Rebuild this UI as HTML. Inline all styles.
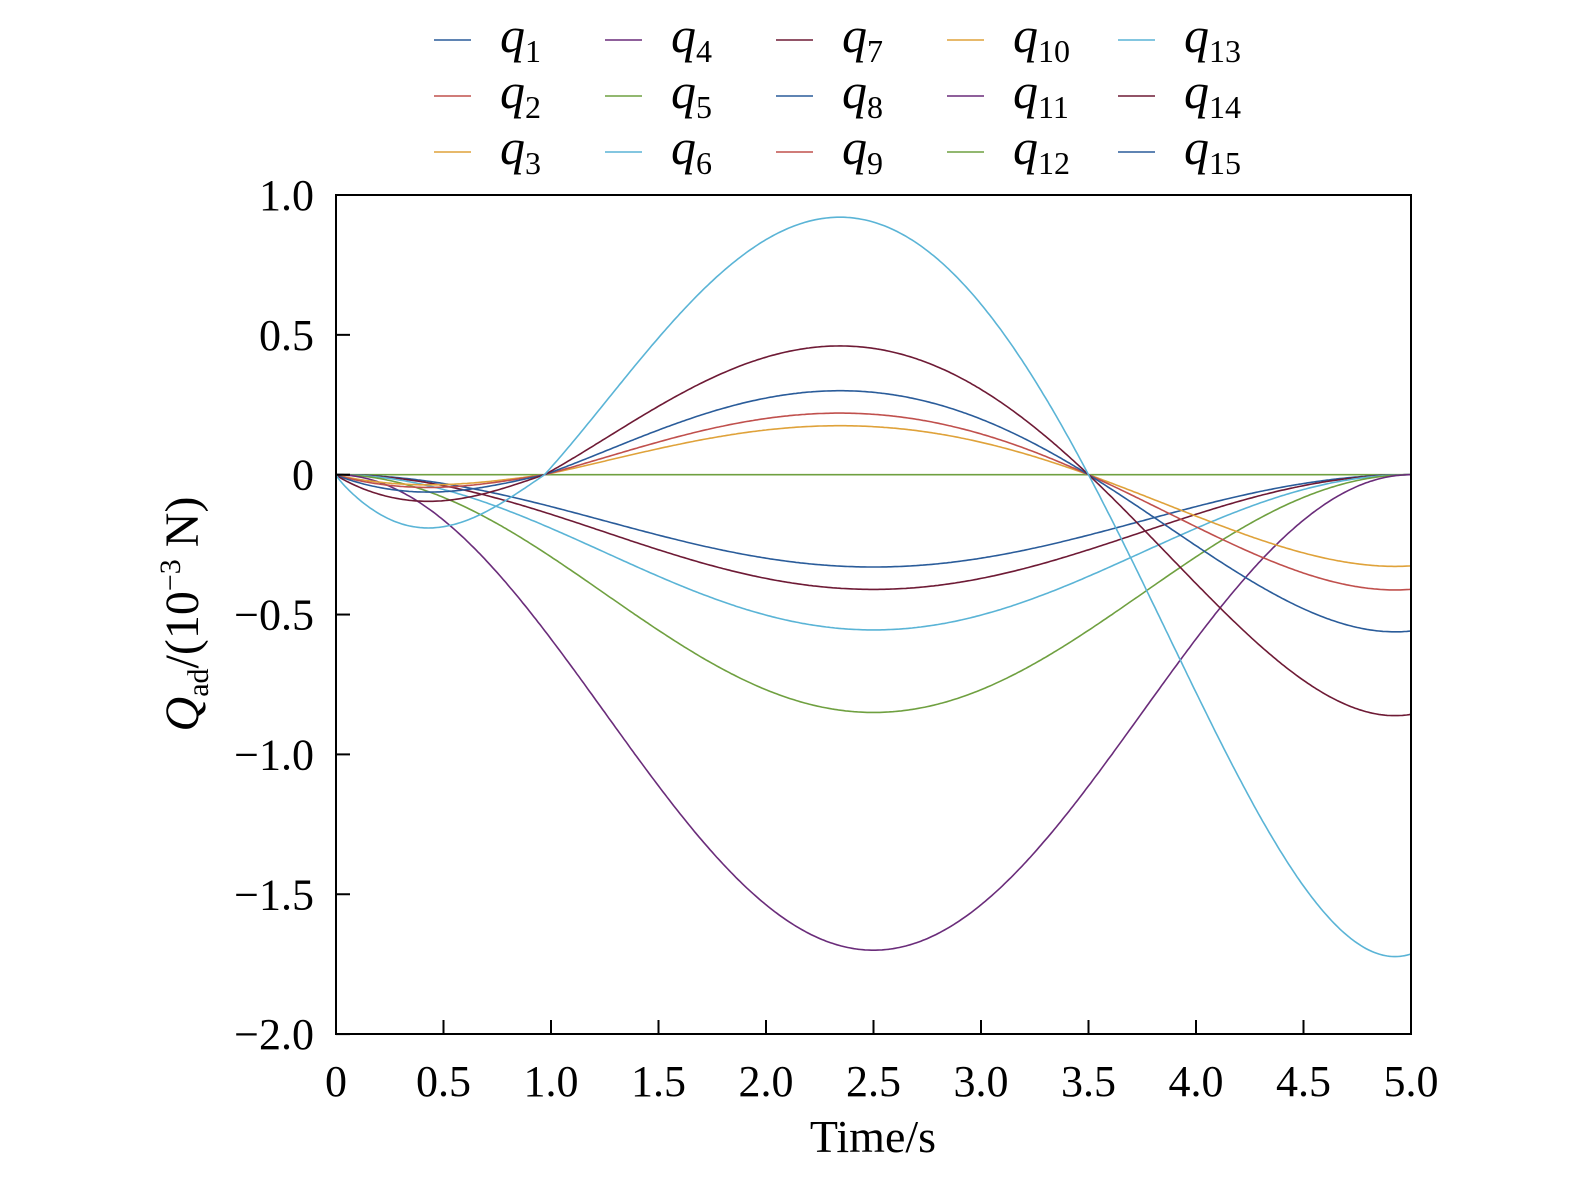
<!DOCTYPE html>
<html><head><meta charset="utf-8"><style>
html,body{margin:0;padding:0;background:#fff;}
</style></head><body>
<svg id="s" width="1575" height="1175" xmlns="http://www.w3.org/2000/svg" font-family="Liberation Serif, serif">
<rect width="1575" height="1175" fill="#fff"/>
<g id="curves" fill="none" stroke-width="1.6"></g>
<rect x="336" y="195" width="1075" height="839" fill="none" stroke="#000" stroke-width="2"/>
<g id="ticks" stroke="#000" stroke-width="2"></g>
<g id="labels" font-size="44" fill="#000"></g>
<text x="873" y="1152" font-size="46" text-anchor="middle">Time/s</text>
<g transform="translate(198,614) rotate(-90)"><text x="0" y="0" font-size="48" text-anchor="middle"><tspan font-style="italic">Q</tspan><tspan font-size="30" dy="10">ad</tspan><tspan dy="-10">/(10</tspan><tspan font-size="30" dy="-18">−3</tspan><tspan dy="18"> N)</tspan></text></g>
<g id="legend"></g>
</svg>
<script>
var ns="http://www.w3.org/2000/svg",s=document.getElementById('s');
function X(t){return 336+t*215;}
function Y(v){return 474.7-v*279.7;}
function el(p,tag,a,txt){var e=document.createElementNS(ns,tag);for(var k in a)e.setAttribute(k,a[k]);if(txt!=null)e.textContent=txt;p.appendChild(e);return e;}
var C={b:'#2a5c9a',r:'#c0504d',o:'#dfa23a',p:'#6a2c7a',g:'#6fa040',c:'#5ab4d6',d:'#6e1a35'};
function g(t){if(t<0.97){var u=t/0.97;return -0.207*Math.sin(Math.PI*Math.pow(u,0.85));}return 0.078*t*(t-0.97)*(t-3.5)*(t-5.79);}
function h(t){return -(1-Math.cos(2*Math.PI*t/5))/2;}
var cg=document.getElementById('curves');
function path(f,col){var d='';for(var i=0;i<=500;i++){var t=i/100;d+=(i?'L':'M')+X(t).toFixed(1)+' '+Y(f(t)).toFixed(1);}el(cg,'path',{d:d,stroke:col});}
path(function(){return 0},C.g);
[[0.33,C.b],[0.41,C.d],[0.555,C.c],[0.85,C.g],[1.7,C.p]].forEach(function(a){path(function(t){return a[0]*h(t)},a[1]);});
[[0.175,C.o],[0.22,C.r],[0.3,C.b],[0.46,C.d],[0.92,C.c]].forEach(function(a){path(function(t){return a[0]*g(t)},a[1]);});
var tk=document.getElementById('ticks'),lb=document.getElementById('labels');
for(var i=0;i<=10;i++){var x=X(i*0.5);el(tk,'line',{x1:x,y1:1034,x2:x,y2:1020});
el(lb,'text',{x:x,y:1096,'text-anchor':'middle'},i==0?'0':(i*0.5).toFixed(1));}
for(var i=0;i<=6;i++){var v=1-i*0.5,y=Y(v);el(tk,'line',{x1:336,y1:y,x2:350,y2:y});
el(lb,'text',{x:314,y:y+15,'text-anchor':'end'},v==0?'0':(v<0?'−':'')+Math.abs(v).toFixed(1));}
var lg=document.getElementById('legend');
var cols=[C.b,C.r,C.o,C.p,C.g,C.c,C.d,C.b,C.r,C.o,C.p,C.g,C.c,C.d,C.b];
for(var k=0;k<15;k++){var col=Math.floor(k/3),row=k%3;var x0=434+col*171,y0=40+row*56;
el(lg,'line',{x1:x0,y1:y0,x2:x0+37,y2:y0,stroke:cols[k],'stroke-width':1.6});
var t=el(lg,'text',{x:x0+66,y:y0+12,'font-size':50});
el(t,'tspan',{'font-style':'italic'},'q');el(t,'tspan',{'font-size':32,dy:10},String(k+1));}
</script>
</body></html>
